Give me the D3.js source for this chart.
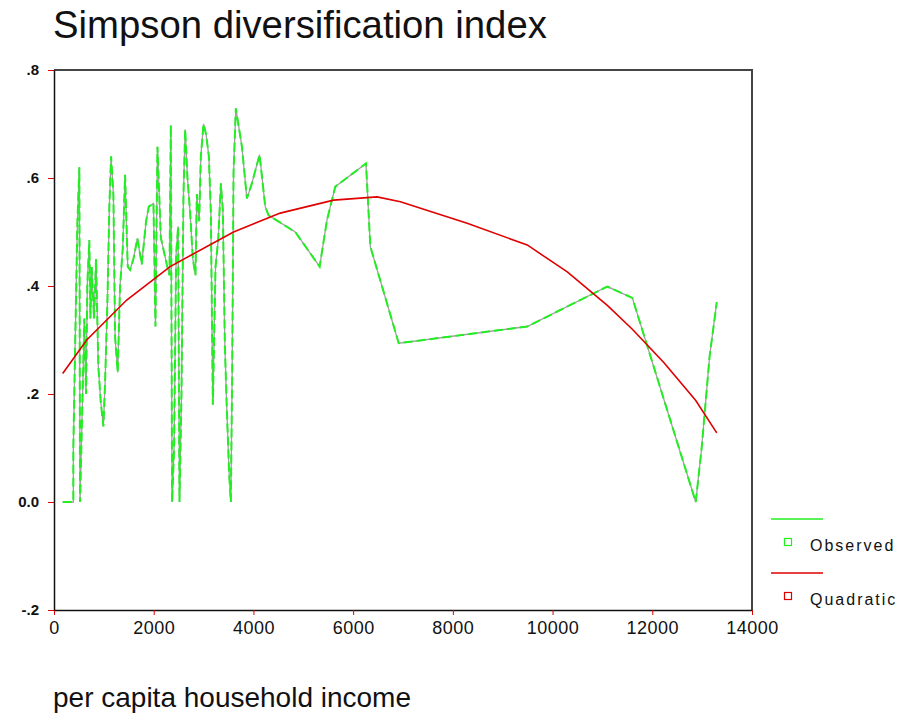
<!DOCTYPE html>
<html>
<head>
<meta charset="utf-8">
<script src="https://cdn.jsdelivr.net/npm/d3@7"></script>
<style>
  body { margin: 0; background: #fff; }
  text { font-family: "Liberation Sans", Arial, sans-serif; }
</style>
</head>
<body>
<script>
// valores
var incomeObs = [174,388,388,428,469,509,522,569,609,643,
  669,709,730,756,803,843,890,937,991,1024,
  1071,1111,1145,1191,1225,1278,1325,1379,1426,1479,
  1526,1593,1673,1760,1847,1901,1995,2035,2075,2142,
  2262,2316,2343,2369,2409,2450,2490,2517,2557,2597,
  2631,2677,2731,2785,2838,2865,2912,2945,2999,3052,
  3106,3146,3186,3240,3293,3347,3387,3427,3467,3514,
  3547,3574,3601,3647,3769,3869,3969,4123,4237,4304,
  4839,5328,5475,5642,6258,6345,6914,9492,11098,11600,
  12872,12990,13150,13293];
var simpsonObs = [0,0,0.10,0.31,0.516,0.62,0,0.18,0.34,0.20,
  0.405,0.485,0.34,0.435,0.34,0.45,0.25,0.186,0.14,0.22,
  0.37,0.55,0.64,0.57,0.306,0.24,0.40,0.47,0.606,0.436,
  0.43,0.45,0.488,0.44,0.52,0.547,0.553,0.325,0.658,0.49,
  0.44,0.42,0.698,0,0.10,0.46,0.51,0,0.20,0.57,
  0.69,0.60,0.535,0.45,0.42,0.57,0.52,0.64,0.70,0.68,
  0.64,0.535,0.18,0.436,0.485,0.59,0.54,0.29,0.17,0.05,
  0,0.24,0.61,0.729,0.658,0.562,0.59,0.643,0.547,0.531,
  0.50,0.436,0.522,0.584,0.627,0.473,0.294,0.325,0.399,0.378,
  0,0.10,0.27,0.37];
var incomeQuad = [174,656,1459,2329,3601,4538,5609,6480,6948,8287,9492,10295,11098,11600,12235,12872,13293];
var simpsonQuad = [0.238,0.30,0.374,0.436,0.50,0.535,0.559,0.565,0.556,0.516,0.476,0.426,0.364,0.32,0.258,0.188,0.128];
var xTicks = [0,2000,4000,6000,8000,10000,12000,14000];
var yTicks = [-0.2,0,0.2,0.4,0.6,0.8];
var yTickLabels = ["-.2","0.0",".2",".4",".6",".8"];
var legendItems = ["Observed","Quadratic"];

var width = 904, height = 715;
var svg = d3.select("body").append("svg")
  .attr("width", width)
  .attr("height", height);

var x = d3.scaleLinear().domain([0, 14000]).range([54, 752]);
var y = d3.scaleLinear().domain([-0.2, 0.8]).range([610, 70]);

// titulo
svg.append("text")
  .attr("x", 53).attr("y", 38)
  .attr("font-size", 38.3)
  .attr("fill", "#111")
  .text("Simpson diversification index");

svg.append("text")
  .attr("x", 53).attr("y", 707)
  .attr("font-size", 28)
  .attr("fill", "#111")
  .text("per capita household income");

// moldura (topo e direita)
svg.append("path")
  .attr("d", "M" + x(0) + "," + y(0.8) + "H" + x(14000) + "V" + y(-0.2))
  .attr("fill", "none")
  .attr("stroke", "#444")
  .attr("stroke-width", 2);

// eixos
var xAxis = svg.append("g").attr("transform", "translate(0," + y(-0.2) + ")")
  .call(d3.axisBottom(x).tickValues(xTicks).tickSize(5).tickSizeOuter(0).tickPadding(6)
    .tickFormat(d3.format("d")));
var yAxis = svg.append("g").attr("transform", "translate(" + x(0) + ",0)")
  .call(d3.axisLeft(y).tickValues(yTicks).tickSize(6).tickSizeOuter(0).tickPadding(9)
    .tickFormat((d, i) => yTickLabels[i]));
[xAxis, yAxis].forEach(function (g) {
  g.select(".domain").attr("stroke", "#111").attr("stroke-width", 1.5);
  g.selectAll(".tick line").attr("stroke", "#e00000");
  g.selectAll(".tick text").attr("fill", "#111")
    .style("font-family", "'Liberation Sans', Arial, sans-serif");
});
xAxis.selectAll(".tick text").attr("font-size", 18).attr("letter-spacing", 0.5);
yAxis.selectAll(".tick text").attr("font-size", 15).attr("font-weight", "bold");

// linhas
var obs = incomeObs.map((d, i) => [d, simpsonObs[i]]);
var quad = incomeQuad.map((d, i) => [d, simpsonQuad[i]]);
var line = d3.line().x(d => x(d[0])).y(d => y(d[1]));

svg.append("path").datum(obs)
  .attr("d", line)
  .attr("fill", "none")
  .attr("stroke", "#a0a0a0")
  .attr("stroke-width", 1.3);
svg.append("path").datum(obs)
  .attr("d", line)
  .attr("fill", "none")
  .attr("stroke", "#22ee22")
  .attr("stroke-width", 2)
  .attr("stroke-dasharray", "9,4");

svg.append("path").datum(quad)
  .attr("d", line)
  .attr("fill", "none")
  .attr("stroke", "#e00000")
  .attr("stroke-width", 1.6);

// legenda
var legColors = ["#22ee22", "#e00000"];
var leg = svg.append("g").selectAll("g").data(legendItems).enter().append("g")
  .attr("transform", (d, i) => "translate(0," + (i * 54) + ")");
leg.append("line")
  .attr("x1", 771).attr("x2", 823).attr("y1", 519).attr("y2", 519)
  .attr("stroke", (d, i) => legColors[i]).attr("stroke-width", 1.5);
leg.append("rect")
  .attr("x", 784.5).attr("y", 538.5).attr("width", 7).attr("height", 7)
  .attr("fill", "none")
  .attr("stroke", (d, i) => legColors[i]).attr("stroke-width", 1.2);
leg.append("text")
  .attr("x", 810).attr("y", 551)
  .attr("font-size", 16)
  .attr("letter-spacing", 2)
  .attr("fill", "#111")
  .text(d => d);
</script>
</body>
</html>
